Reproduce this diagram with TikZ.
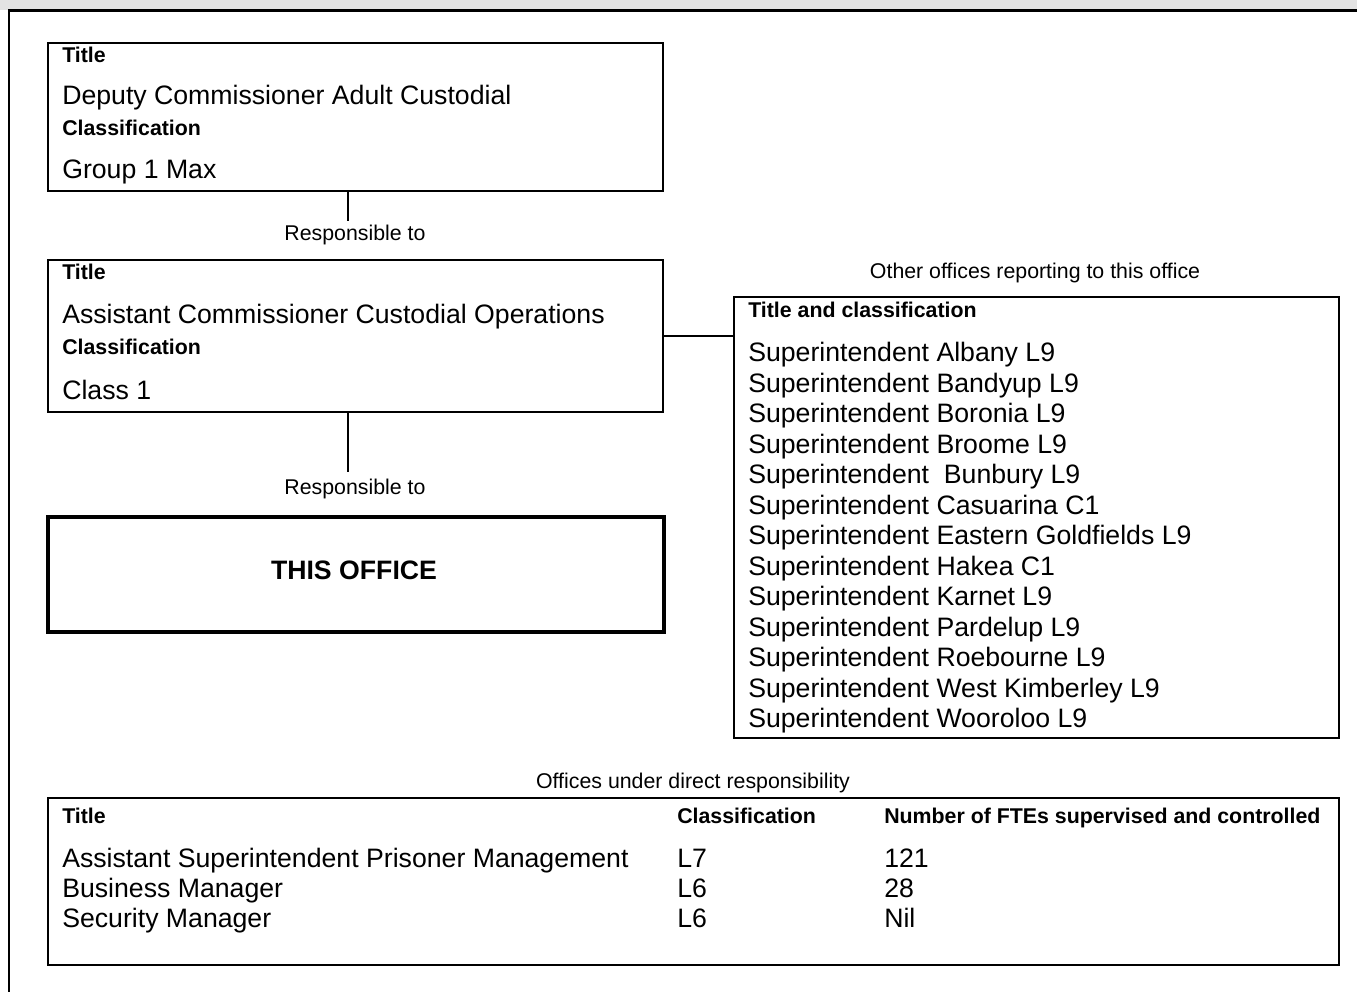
\documentclass[tikz,border=0pt]{standalone}
\usepackage{fontspec}
\setmainfont{Liberation Sans}
\begin{document}
\begin{tikzpicture}[x=0.75pt,y=-0.75pt,
  frame/.style={draw=black,line width=1.6pt,inner sep=0pt,anchor=north west},
  big/.style={font=\fontsize{20}{24}\selectfont,inner sep=0pt,anchor=base west},
  head/.style={font=\fontsize{16}{19}\selectfont\bfseries,inner sep=0pt,anchor=base west},
  lbl/.style={font=\fontsize{16}{19}\selectfont,inner sep=0pt,anchor=base},
  conn/.style={draw=black,line width=1.6pt}]
\useasboundingbox (0,0) rectangle (1357,992);
% page frame
\fill[black!11] (0,0) rectangle (1357,10);
\draw[line width=1.8pt] (1357,10.5) -- (9,10.5) -- (9,992);

% box 1
\node[frame,minimum width=461.25pt,minimum height=111pt] (b1) at (47,42) {};
\node[head] (b1t) at (62,62) {Title};
\node[big] (b1n) at (62,104) {Deputy Commissioner Adult Custodial};
\node[head] (b1c) at (62,135) {Classification};
\node[big] (b1g) at (62,178) {Group 1 Max};

% box 2
\node[frame,minimum width=461.25pt,minimum height=114pt] (b2) at (47,259) {};
\node[head] (b2t) at (62,279) {Title};
\node[big] (b2n) at (62,323) {Assistant Commissioner Custodial Operations};
\node[head] (b2c) at (62,354) {Classification};
\node[big] (b2g) at (62,399) {Class 1};

% this office
\node[draw=black,line width=3pt,inner sep=0pt,anchor=north west,minimum width=462pt,minimum height=86.25pt] (b3) at (46,515) {};
\node[font=\fontsize{20}{24}\selectfont\bfseries,inner sep=0pt] (b3t) at (354,570) {THIS OFFICE};

% connectors
\coordinate (e1) at (348,221);
\coordinate (e2) at (348,472);
\draw[conn] (b1.south -| e1) -- (e1);
\draw[conn] (b2.south -| e2) -- (e2);
\node[lbl] (r1) at (355,240) {Responsible to};
\node[lbl] (r2) at (355,494) {Responsible to};

% right box
\node[lbl] (oth) at (1035,278) {Other offices reporting to this office};
\node[frame,minimum width=453.75pt,minimum height=330.75pt] (b4) at (733,296) {};
\draw[conn] (b2.east |- 0,336) -- (b4.west |- 0,336);
\node[head] (b4h) at (748,317) {Title and classification};
\foreach \t [count=\i from 0] in {Superintendent Albany L9,Superintendent Bandyup L9,Superintendent Boronia L9,Superintendent Broome L9,Superintendent \ Bunbury L9,Superintendent Casuarina C1,Superintendent Eastern Goldfields L9,Superintendent Hakea C1,Superintendent Karnet L9,Superintendent Pardelup L9,Superintendent Roebourne L9,Superintendent West Kimberley L9,Superintendent Wooroloo L9}
  \node[big] (s\i) at (748,361.5+30.5*\i) {\t};

% bottom box
\node[lbl] (dir) at (693,788) {Offices under direct responsibility};
\node[frame,minimum width=968.25pt,minimum height=125.25pt] (b5) at (47,797) {};
\node[head] (h1) at (62,823) {Title};
\node[head] (h2) at (677,823) {Classification};
\node[head] (h3) at (884,823) {Number of FTEs supervised and controlled};
\node[big] (t1) at (62,867) {Assistant Superintendent Prisoner Management};
\node[big] (c1) at (677,867) {L7};
\node[big] (n1) at (884,867) {121};
\node[big] (t2) at (62,897) {Business Manager};
\node[big] (c2) at (677,897) {L6};
\node[big] (n2) at (884,897) {28};
\node[big] (t3) at (62,927) {Security Manager};
\node[big] (c3) at (677,927) {L6};
\node[big] (n3) at (884,927) {Nil};
\end{tikzpicture}
\end{document}
